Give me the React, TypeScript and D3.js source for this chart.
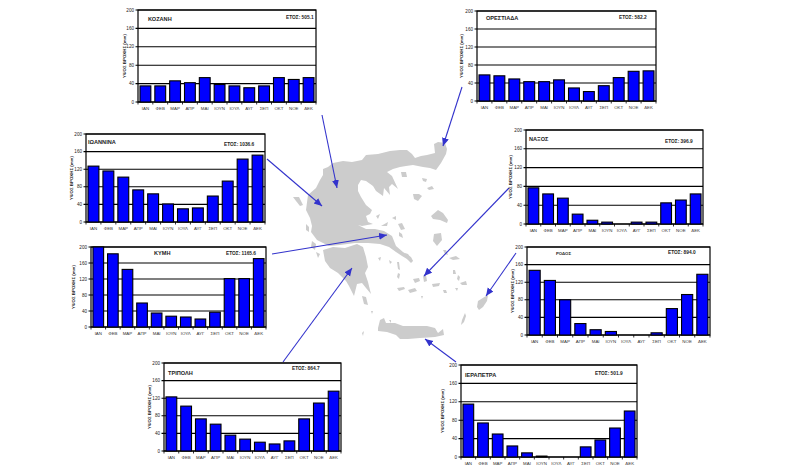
import React from "react";
import * as d3 from "d3";

const months = ["ΙΑΝ","ΦΕΒ","ΜΑΡ","ΑΠΡ","ΜΑΙ","ΙΟΥΝ","ΙΟΥΛ","ΑΥΓ","ΣΕΠ","ΟΚΤ","ΝΟΕ","ΔΕΚ"];
const yTicks = [0,40,80,120,160,200];

const kozani = [35,35,46,42,53,38,35,31,35,53,49,53];
const orestiada = [58,56,49,43,43,47,29,21,34,52,66,67];
const ioannina = [127,116,102,73,64,41,30,32,59,93,143,152];
const kymi = [200,183,144,60,35,27,25,20,37,121,121,171];
const tripoli = [123,102,73,61,36,27,20,16,23,73,109,136];
const ierapetra = [115,74,50,24,9,2,0,0,22,37,63,100];
const naxos = [77,64,55,21,8,4,0,4,4,45,51,64];
const rodos = [147,124,80,26,12,8,0,0,5,60,92,138];

type P = { name:string; year:string; vals:number[]; l:number; r:number; t:number; b:number; tx:number; ty:number; ex:number; ey:number; lx:number; fs?:number };
const panels: P[] = [
  {name:"ΚΟΖΑΝΗ",year:"ΕΤΟΣ: 505.1",vals:kozani,l:138,r:316,t:10,b:102,tx:148,ty:19,ex:286,ey:17,lx:126},
  {name:"ΟΡΕΣΤΙΑΔΑ",year:"ΕΤΟΣ: 582.2",vals:orestiada,l:477,r:656,t:11,b:101,tx:486,ty:18,ex:619,ey:17,lx:463},
  {name:"ΙΩΑΝΝΙΝΑ",year:"ΕΤΟΣ: 1036.6",vals:ioannina,l:86,r:265,t:134,b:222,tx:88,ty:142,ex:224,ey:144,lx:73},
  {name:"ΚΥΜΗ",year:"ΕΤΟΣ: 1165.6",vals:kymi,l:91,r:266,t:247,b:327,tx:154,ty:253,ex:226,ey:253,lx:75},
  {name:"ΤΡΙΠΟΛΗ",year:"ΕΤΟΣ: 864.7",vals:tripoli,l:164,r:341,t:363,b:451,tx:168,ty:373,ex:292,ey:368,lx:151},
  {name:"ΙΕΡΑΠΕΤΡΑ",year:"ΕΤΟΣ: 501.9",vals:ierapetra,l:461,r:637,t:365,b:457,tx:465,ty:375,ex:595,ey:373,lx:444},
  {name:"ΝΑΞΟΣ",year:"ΕΤΟΣ: 396.9",vals:naxos,l:526,r:703,t:130,b:224,tx:529,ty:139,ex:665,ey:141,lx:512},
  {name:"ΡΟΔΟΣ",year:"ΕΤΟΣ: 894.0",vals:rodos,l:527,r:710,t:247,b:335,tx:556,ty:253,ex:668,ey:252,lx:514,fs:4.3},
];

const arrows = [
  [322,115,337,188],[462,87,443,146],[267,159,322,206],[272,254,387,235],
  [283,362,352,268],[509,188,424,276],[516,253,486,296],[456,362,425,339],
];

const land: [number,number][][] = [
  // mainland with Euboea and Attica
  [[323,169],[328,167],[333,163],[343,161],[352,162],[362,160],[366,155],[378,154],[390,151],[400,150],[407,150],[412,154],[415,158],[421,156],[427,155],[435,153],[434,144],[438,142],[445,143],[447,149],[446,154],[441,163],[436,170],[430,168],[423,167],[413,165],[406,166],[400,167],[393,169],[387,172],[392,176],[398,189],[392,184],[389,187],[390,195],[384,188],[383,196],[376,191],[373,186],[366,181],[361,180],[358,185],[358,191],[361,197],[366,205],[372,210],[370,214],[366,216],[368,222],[373,224],[362,226],[358,225],[366,229],[375,229],[384,231],[392,236],[396,246],[403,252],[411,257],[413,261],[407,259],[402,256],[396,252],[389,247],[380,244],[368,243],[355,243],[340,245],[329,246],[323,243],[317,240],[311,232],[312,226],[310,218],[306,210],[308,195],[316,188],[320,180],[323,175]],
  // Peloponnese
  [[323,250],[333,247],[345,248],[357,244],[363,247],[366,257],[368,267],[365,273],[368,282],[371,294],[366,288],[362,283],[357,284],[354,296],[349,286],[346,281],[338,273],[330,268],[325,261]],
  // Crete
  [[378,328],[380,320],[384,318],[386,323],[395,323],[403,326],[413,326],[427,326],[435,328],[438,333],[443,329],[444,335],[435,337],[420,338],[408,339],[400,339],[396,335],[387,332],[378,331]],
  // Rhodes
  [[486,296],[488,295],[487,301],[483,307],[479,310],[477,307],[478,301]],
  // Karpathos
  [[465,313],[466,316],[464,322],[461,325],[462,320]],
  // Lesvos, Chios
  [[431,216],[438,210],[443,213],[448,220],[447,223],[440,220],[433,219]],
  [[434,234],[441,233],[442,240],[437,246],[433,241]],
  // Limnos, Thasos, Samothraki, Imbros
  [[413,194],[419,194],[422,196],[418,201],[414,199]],
  [[401,172],[406,172],[407,177],[402,177]],[[422,178],[427,179],[426,182],[423,181]],[[427,188],[432,186],[434,189],[429,190]],
  // Skyros
  [[398,224],[402,223],[405,229],[401,230]],
  // Cyclades
  [[405,253],[408,254],[413,261],[411,263],[407,259]],[[397,262],[399,262],[400,270],[398,269]],
  [[398,273],[400,274],[399,279],[397,277]],
  [[423,276],[426,275],[427,281],[424,282]],[[413,279],[419,278],[420,281],[415,283]],
  [[432,284],[440,283],[439,286],[433,287]],[[408,290],[415,288],[417,291],[410,293]],
  [[397,288],[404,287],[405,289],[399,291]],[[443,290],[446,290],[447,293],[444,293]],
  [[421,296],[423,296],[422,299]],
  // Dodecanese and eastern islands
  [[449,258],[456,256],[460,259],[453,260]],[[453,270],[455,270],[456,274],[453,274]],[[458,275],[460,277],[459,281],[457,279]],
  [[460,283],[466,281],[467,285],[462,285]],[[455,288],[458,288],[457,291]],
  [[443,250],[446,250],[448,255],[445,254]],
  // Saronic and Sporades
  [[362,296],[366,297],[368,305],[364,304]],[[371,311],[373,311],[372,314]],[[389,320],[391,320],[391,323]],
  [[381,226],[388,222],[387,226]],[[392,218],[396,216],[396,220]],[[376,216],[380,214],[378,219]],
  [[399,232],[402,234],[403,238],[399,236]],
  [[389,260],[392,262],[390,264]],[[378,258],[381,257],[380,261]],
  // Ionian islands
  [[293,197],[299,197],[303,205],[300,206],[296,201]],[[306,224],[309,227],[309,232],[306,230]],
  [[312,241],[316,244],[315,250],[311,247]],[[316,252],[320,254],[318,258]],
  [[362,333],[364,331],[363,336]],
];

const line = d3.line();

function Panel({p}:{p:P}) {
  const x = d3.scaleBand<string>().domain(months).range([p.l,p.r]).paddingInner(0.27).paddingOuter(0.135);
  const xb = d3.scaleBand<string>().domain(months).range([p.l,p.r]);
  const y = d3.scaleLinear().domain([0,200]).range([p.b,p.t]);
  return (
    <g fontFamily="Liberation Sans, Arial, sans-serif" fill="#000">
      <rect x={p.l} y={p.t} width={p.r-p.l} height={p.b-p.t} fill="#fff" stroke="#000" strokeWidth={1.2}/>
      {yTicks.map(t=>(
        <g key={t}>
          <line x1={p.l-2.5} x2={p.r} y1={y(t)} y2={y(t)} stroke="#000" strokeWidth={1.1}/>
          <text x={p.l-4} y={y(t)+1.6} fontSize={4.6} textAnchor="end" fill="#222">{t}</text>
        </g>
      ))}
      {months.map((m,i)=>(
        <g key={m}>
          <rect x={x(m)} y={y(p.vals[i])} width={x.bandwidth()} height={y(0)-y(p.vals[i])} fill="#0000ff" stroke="#000" strokeWidth={1.1}/>
          <line x1={xb(m)} x2={xb(m)} y1={p.b} y2={p.b+2.5} stroke="#000" strokeWidth={0.8}/>
          <text x={xb(m)!+xb.bandwidth()/2} y={p.b+7.5} fontSize={4.4} textAnchor="middle" fill="#333">{m}</text>
        </g>
      ))}
      <line x1={p.r} x2={p.r} y1={p.b} y2={p.b+2.5} stroke="#000" strokeWidth={0.8}/>
      <text x={p.tx} y={p.ty+2} fontSize={p.fs ?? 5.6} fontWeight="bold" fill="#222">{p.name}</text>
      <text x={p.ex} y={p.ey+1.7} fontSize={4.8} fontWeight="bold" fill="#222">{p.year}</text>
      <text transform={`translate(${p.lx},${(p.t+p.b)/2}) rotate(-90)`} fontSize={4.4} fontWeight="bold" textAnchor="middle" fill="#222">ΥΨΟΣ ΒΡΟΧΗΣ (mm)</text>
    </g>
  );
}

export default function App() {
  return (
    <svg width={797} height={474} style={{position:"absolute",left:0,top:0,background:"#fff"}}>
      <defs>
        <filter id="soft" x="-5%" y="-5%" width="110%" height="110%"><feGaussianBlur stdDeviation={0.35}/></filter>
        <marker id="ah" markerUnits="userSpaceOnUse" markerWidth={9} markerHeight={8} refX={8} refY={3.5} orient="auto">
          <path d="M0,0 L8,3.5 L0,7 Z" fill="#3333cc"/>
        </marker>
      </defs>
      <g filter="url(#soft)">
        {land.map((l,i)=><path key={i} d={line(l)+"Z"} fill="#cccccc"/>)}
      </g>
      {arrows.map((a,i)=><line key={i} x1={a[0]} y1={a[1]} x2={a[2]} y2={a[3]} stroke="#3333cc" strokeWidth={1.1} markerEnd="url(#ah)"/>)}
      {panels.map(p=><Panel key={p.name} p={p}/>)}
    </svg>
  );
}
